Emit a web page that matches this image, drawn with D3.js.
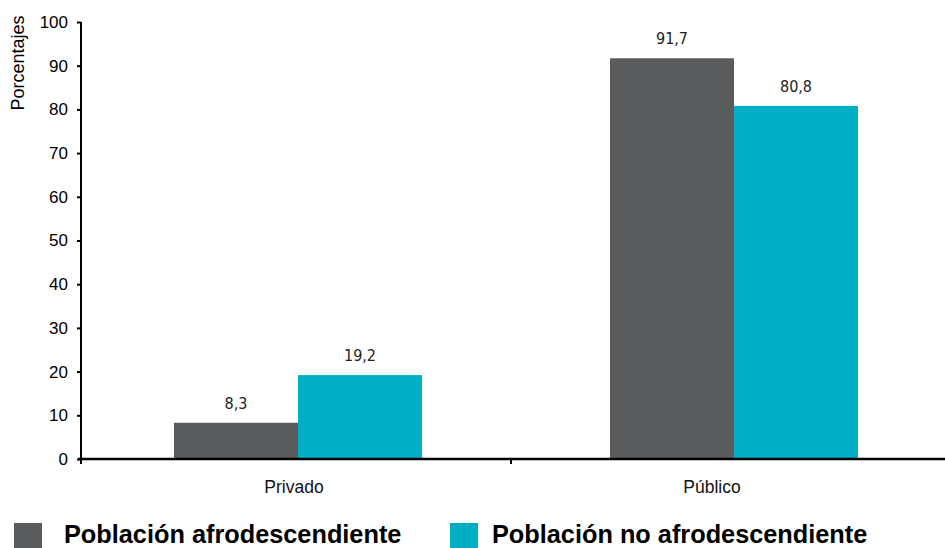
<!DOCTYPE html>
<html><head><meta charset="utf-8">
<script src="https://cdn.jsdelivr.net/npm/d3@7"></script>
<style>body{margin:0;background:#fff}</style>
</head><body>
<svg id="c" width="945" height="548"></svg>
<script>
const categories = ["Privado", "Público"];
const seriesNames = ["Población afrodescendiente", "Población no afrodescendiente"];
const afroValues = [8.3, 91.7];
const noAfroValues = [19.2, 80.8];
const valueLabels = [["8,3", "91,7"], ["19,2", "80,8"]];
const yTicks = [0, 10, 20, 30, 40, 50, 60, 70, 80, 90, 100];
const colors = ["#5a5b5d", "#00afc7"];

const svg = d3.select("#c");
const x0 = d3.scaleBand().domain(categories).range([80, 952]).padding(0);
const x1 = d3.scaleBand().domain(seriesNames).range([0, x0.bandwidth()]).paddingInner(0).paddingOuter(0.758);
const y = d3.scaleLinear().domain([0, 100]).range([459, 22]);
const seriesVals = [afroValues, noAfroValues];

// bars
seriesNames.forEach((s, si) => {
  svg.append("g").selectAll("rect").data(categories).join("rect")
    .attr("x", c => x0(c) + x1(s))
    .attr("y", (c, i) => y(seriesVals[si][i]))
    .attr("width", x1.bandwidth())
    .attr("height", (c, i) => y(0) - y(seriesVals[si][i]))
    .attr("fill", colors[si]);
  svg.append("g").selectAll("text").data(categories).join("text")
    .attr("x", c => x0(c) + x1(s) + x1.bandwidth() / 2)
    .attr("y", (c, i) => y(seriesVals[si][i]) - 14)
    .attr("text-anchor", "middle")
    .attr("font-family", "'Liberation Sans Narrow', 'DejaVu Sans Condensed', sans-serif")
    .attr("font-size", 16)
    .attr("fill", "#222")
    .text((c, i) => valueLabels[si][i]);
});

// y axis
const yAxis = svg.append("g").attr("transform", "translate(81,0)")
  .call(d3.axisLeft(y).tickValues(yTicks).tickSize(4).tickPadding(9));
yAxis.select(".domain").attr("stroke", "#000").attr("stroke-width", 2).attr("d", `M0,${y(100)}V${y(0)+1}`);
yAxis.selectAll(".tick line").attr("stroke", "#000").attr("stroke-width", 2);
yAxis.selectAll(".tick text").attr("font-family", "'Liberation Sans', Arial, sans-serif").attr("font-size", 17).attr("fill", "#000");

// x axis
const xg = svg.append("g").attr("transform", `translate(0,${y(0)})`);
xg.append("line").attr("x1", 78).attr("x2", 945).attr("y1", 0).attr("y2", 0).attr("stroke", "#000").attr("stroke-width", 2.5);
xg.append("line").attr("x1", 511).attr("x2", 511).attr("y1", 0).attr("y2", 5).attr("stroke", "#000").attr("stroke-width", 2);
xg.append("line").attr("x1", 81).attr("x2", 81).attr("y1", 0).attr("y2", 5).attr("stroke", "#000").attr("stroke-width", 2);
xg.selectAll("text.cat").data(categories).join("text").attr("class", "cat")
  .attr("x", (c, i) => x0(c) + x0.bandwidth() / 2 - (i === 0 ? 4 : 22))
  .attr("y", 34)
  .attr("text-anchor", "middle")
  .attr("font-family", "'Liberation Sans', Arial, sans-serif")
  .attr("font-size", 17.5).attr("fill", "#111")
  .text(d => d);

// y title
svg.append("text").attr("transform", "translate(24,63) rotate(-90)")
  .attr("text-anchor", "middle")
  .attr("font-family", "'Liberation Sans', Arial, sans-serif")
  .attr("font-size", 18).attr("fill", "#000").text("Porcentajes");

// legend
const legX = [14, 450], legTX = [64, 492];
seriesNames.forEach((s, i) => {
  svg.append("rect").attr("x", legX[i]).attr("y", 523).attr("width", 28).attr("height", 26).attr("fill", colors[i]);
  svg.append("text").attr("x", legTX[i]).attr("y", 543)
    .attr("font-family", "'Liberation Sans', Arial, sans-serif")
    .attr("font-weight", "bold").attr("font-size", 25.3).attr("fill", "#000").text(s);
});
</script>
</body></html>
